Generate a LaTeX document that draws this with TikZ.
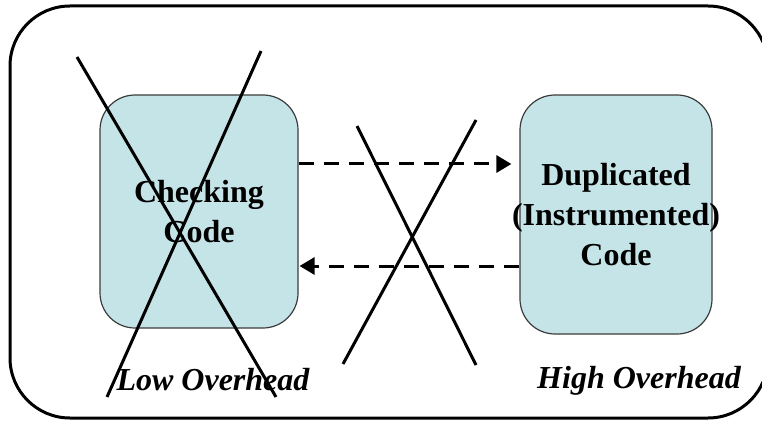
\documentclass[tikz,border=0pt]{standalone}
\usepackage{fontspec}
\setmainfont{Liberation Serif}
\usetikzlibrary{arrows.meta,calc}
\definecolor{boxfill}{RGB}{197,228,232}
\definecolor{boxline}{RGB}{60,60,60}
\tikzset{
  codebox/.style={draw=boxline, line width=1.2pt, fill=boxfill, rounded corners=35pt, inner sep=0pt},
  codetext/.style={align=center, inner sep=0pt, font=\fontsize{32}{40}\selectfont\bfseries},
  crossline/.style={line width=3pt, black},
  flow/.style={line width=3pt, dash pattern=on 15pt off 10pt, -{Triangle[length=15pt,width=17pt]}},
  overhead/.style={font=\fontsize{32}{38}\selectfont\bfseries\itshape, inner sep=0pt}
}
\begin{document}
\begin{tikzpicture}[x=1pt,y=-1pt]
\useasboundingbox (0,0) rectangle (762,422);
\clip (0,0) rectangle (762,422);
\draw[line width=3pt, rounded corners=60pt] (10,6) rectangle (768,418);
\node[codebox, minimum width=198pt, minimum height=233pt] (check) at (199,211.5) {};
\node[codetext] (checkText) at (check.center) {Checking\\Code};
\node[codebox, minimum width=192pt, minimum height=239pt] (dup) at (616,214.5) {};
\node[codetext] (dupText) at (dup.center) {Duplicated\\(Instrumented)\\Code};
\draw[flow] (check.east |- 0,164) -- ($(dup.west |- 0,164)+(-8,0)$);
\draw[flow] (dup.west |- 0,266) -- ($(check.east |- 0,266)+(1,0)$);
\node[overhead] (low) at (213,380) {Low Overhead};
\node[overhead] (high) at (639,381) {High Overhead};
\draw[crossline] (77,57) -- (276,397);
\draw[crossline] (261,51) -- (107,397);
\draw[crossline] (357,126) -- (476,365);
\draw[crossline] (476,120) -- (343,364);
\end{tikzpicture}
\end{document}
